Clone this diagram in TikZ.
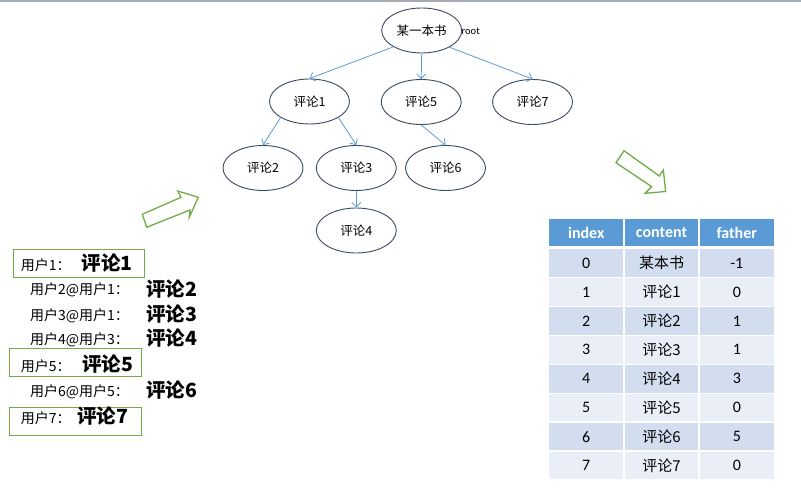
\documentclass[tikz,border=0pt]{standalone}
\usepackage{fontspec}
\setmainfont{Carlito}
\newfontfamily\cjk{Noto Sans CJK SC}
\usetikzlibrary{shapes.geometric,arrows.meta}
\definecolor{edgeblue}{HTML}{5B9BD5}
\definecolor{ellborder}{HTML}{3B4A63}
\definecolor{grn}{HTML}{70AD47}
\definecolor{hdr}{HTML}{5B9BD5}
\definecolor{rowA}{HTML}{D2DEEF}
\definecolor{rowB}{HTML}{EAEFF7}
\definecolor{topbar}{HTML}{A5ABB5}
\tikzset{
  tnode/.style={ellipse, draw=ellborder, line width=0.9pt, fill=white,
    minimum width=80pt, minimum height=45pt, inner sep=0pt,
    font=\cjk\fontsize{12.5}{15}\selectfont},
  edge/.style={draw=edgeblue, line width=0.8pt, -{Straight Barb[length=4.5pt,width=9pt]}},
  greenbox/.style={draw=grn, line width=1pt, inner sep=0pt, anchor=north west},
  usertxt/.style={anchor=west, inner sep=0pt, font=\cjk\fontsize{14}{16}\selectfont},
  cmttxt/.style={anchor=west, inner sep=0pt, font=\cjk\bfseries\fontsize{19.5}{22}\selectfont},
  bigarrow/.style={draw=grn, line width=1.3pt, fill=white, line join=miter},
  hcell/.style={fill=hdr, draw=white, line width=1.5pt, minimum width=75.3pt, minimum height=28pt,
    inner sep=0pt, text=white, font=\bfseries\fontsize{16}{18}\selectfont},
  cellA/.style={fill=rowA, draw=white, line width=1.5pt, minimum width=75.3pt, minimum height=28.95pt,
    inner sep=0pt, font=\fontsize{16}{18}\selectfont},
  cellB/.style={cellA, fill=rowB},
}
\begin{document}
\begin{tikzpicture}[x=1pt,y=-1pt]
\useasboundingbox (0,0) rectangle (801,492);
\fill[topbar] (0,0) rectangle (801,2.5);

% tree
\node[tnode] (root) at (421.7,30.5) {某一本书};
\node[anchor=west, inner sep=0pt, font=\fontsize{10.5}{12}\selectfont] (rootlbl) at (461.5,31) {root};
\node[tnode] (c1) at (309.5,101.5) {评论1};
\node[tnode] (c5) at (421.2,102) {评论5};
\node[tnode] (c7) at (532.5,102) {评论7};
\node[tnode] (c2) at (263,168) {评论2};
\node[tnode] (c3) at (356.3,168) {评论3};
\node[tnode] (c6) at (445.5,168) {评论6};
\node[tnode] (c4) at (356.3,230.5) {评论4};

\draw[edge] (root.-150) -- (c1.north);
\draw[edge] (root.south) -- (c5.north);
\draw[edge] (root.-31) -- (c7.north);
\draw[edge] (c1.-151) -- (c2.north);
\draw[edge] (c1.-29) -- (c3.north);
\draw[edge] (c5.south) -- (c6.north);
\draw[edge] (c3.south) -- (c4.north);

% green hollow arrows
\draw[bigarrow] (142.3,214.3) -- (181,197.3) -- (177.7,191) -- (198.3,197.3) -- (189.3,217.3) -- (190,210) -- (146.7,227.3) -- cycle;
\draw[bigarrow] (624,150.7) -- (659.3,176) -- (663.3,170) -- (665.7,191.5) -- (645,193.3) -- (651.7,186.7) -- (616,162.7) -- cycle;

% left comment list
\node[greenbox, minimum width=131pt, minimum height=27.4pt] (b1) at (13,249.3) {};
\node[greenbox, minimum width=131.4pt, minimum height=27.7pt] (b5) at (9.3,348.3) {};
\node[greenbox, minimum width=131.4pt, minimum height=27.7pt] (b7) at (9.3,407.3) {};

\node[usertxt] (u1) at (20.7,265) {用户1：};
\node[cmttxt] (m1) at (81.7,263) {评论1};
\node[usertxt] (u2) at (30,290) {用户2@用户1：};
\node[cmttxt] (m2) at (146,289) {评论2};
\node[usertxt] (u3) at (30,316) {用户3@用户1：};
\node[cmttxt] (m3) at (146,314.5) {评论3};
\node[usertxt] (u4) at (30,340) {用户4@用户3：};
\node[cmttxt] (m4) at (146,338) {评论4};
\node[usertxt] (u5) at (20.7,366) {用户5：};
\node[cmttxt] (m5) at (82,364) {评论5};
\node[usertxt] (u6) at (30,392) {用户6@用户5：};
\node[cmttxt] (m6) at (146,390) {评论6};
\node[usertxt] (u7) at (20.7,418) {用户7：};
\node[cmttxt] (m7) at (77,416.5) {评论7};

% table
\node[hcell] (h1) at (586.2,232.5) {index};
\node[hcell] (h2) at (661.5,232.5) {content};
\node[hcell] (h3) at (736.8,232.5) {father};
\foreach \i/\c/\f in {0/某本书/-1, 1/评论1/0, 2/评论2/1, 3/评论3/1, 4/评论4/3, 5/评论5/0, 6/评论6/5, 7/评论7/0}{
  \pgfmathsetmacro{\yy}{248.5+28.95*\i+14.475}
  \pgfmathtruncatemacro{\parity}{mod(\i,2)}
  \ifnum\parity=0 \def\cs{cellA}\else\def\cs{cellB}\fi
  \node[\cs] (r\i a) at (586.2,\yy) {\i};
  \node[\cs, font=\cjk\fontsize{15}{17}\selectfont] (r\i b) at (661.5,\yy) {\c};
  \node[\cs] (r\i c) at (736.8,\yy) {\f};
}
\end{tikzpicture}
\end{document}
